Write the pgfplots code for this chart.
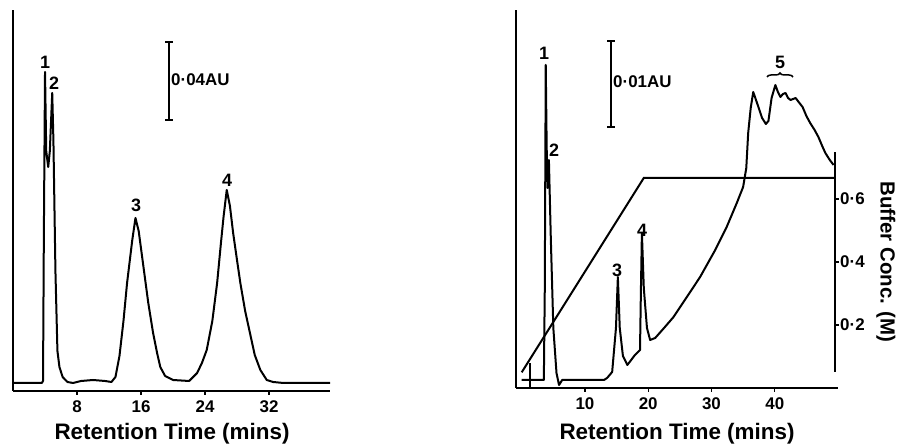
\documentclass[border=0pt]{standalone}
\usepackage{pgfplots}
\pgfplotsset{compat=1.18}
\usepackage{fontspec}
\setmainfont{Liberation Sans}
\usetikzlibrary{decorations.pathreplacing}
\begin{document}
\begin{tikzpicture}[x=1bp,y=1bp]
\pgfplotsset{
  chrom/.style={scale only axis, axis x line=bottom, axis y line=left,
    axis line style={line width=2.8bp,-}, ytick=\empty,
    tick align=outside, major tick length=4bp,
    xtick style={line width=1.4bp, black},
    xticklabel style={font=\bfseries\fontsize{17}{17}\selectfont, inner sep=0pt, yshift=-5bp},
    clip=false}
}
% ---------------- left chromatogram ----------------
\begin{axis}[chrom, at={(13bp,55bp)}, anchor=south west, width=317bp, height=381bp,
  xmin=0, xmax=39.6, ymin=0, ymax=381,
  xtick={8,16,24,32}, xticklabels={8,16,24,32}]
\addplot[line width=2bp, black, line join=round] coordinates {
(0,8) (3.6,8) (3.75,10) (3.85,150) (4.0,319) (4.15,240) (4.4,224) (4.6,240) (4.9,298)
(5.05,250) (5.3,120) (5.55,40) (5.8,24) (6.2,14) (6.8,9) (7.5,8) (8.5,10) (10,11)
(11.5,10) (12.3,9) (12.8,14) (13.3,35) (13.8,70) (14.25,108) (14.9,151) (15.3,173)
(15.7,160) (16.3,124) (16.9,88) (17.5,58) (18.0,38) (18.4,24) (19.0,15) (20,11) (22,10)
(23,18) (23.6,28) (24.2,41) (24.9,70) (25.5,108) (26.0,150) (26.3,174) (26.7,201)
(27.1,185) (27.5,158) (28.0,130) (28.4,108) (29.0,80) (29.6,58) (30.2,36) (30.9,21)
(31.7,11) (32.5,9) (33.8,8) (39.6,8)};
\end{axis}
\node[font=\bfseries\fontsize{22.5}{22.5}\selectfont, anchor=base] at (172,6) {Retention Time (mins)};
% scale bar left
\draw[line width=1.8bp] (169,404) -- (169,326);
\draw[line width=1.5bp] (165,404) -- (173,404) (165,326) -- (173,326);
\node[font=\bfseries\fontsize{17}{17}\selectfont, anchor=west, inner sep=0pt] at (171,366) {0·04AU};
% peak labels left
\begin{scope}[every node/.style={font=\bfseries\fontsize{18}{18}\selectfont, inner sep=0pt}]
\node at (45,384) {1};
\node at (54,363) {2};
\node at (136,241) {3};
\node at (227,266) {4};
\end{scope}
% ---------------- right chromatogram ----------------
\begin{axis}[chrom, at={(516bp,58bp)}, anchor=south west, width=322bp, height=378bp,
  xmin=-0.9, xmax=50, ymin=0, ymax=378,
  xtick={10,20,30,40}, xticklabels={10,20,30,40}]
\addplot[line width=2bp, black, line join=round] coordinates {
(0,8) (3.5,8) (3.65,100) (3.8,323) (3.95,240) (4.1,200) (4.3,228) (4.6,150) (5.0,60)
(5.5,15) (5.9,3) (6.4,8) (10,8) (13.0,8) (13.5,10) (14.3,16) (14.9,60) (15.2,111)
(15.5,60) (16.0,32) (16.7,23) (17.9,33) (18.7,38) (18.85,100) (19.0,155) (19.3,100)
(19.8,60) (20.3,48) (21.1,50) (22.5,60) (24.0,71) (26.0,90) (28.2,111) (30.5,137)
(32.4,161) (34.0,185) (35.0,201) (35.5,220) (35.8,255) (36.2,280) (36.6,296)
(37.2,285) (38.0,270) (38.6,264) (39.0,267) (39.5,290) (40.1,303) (40.5,296)
(40.9,291) (41.3,294) (41.7,295) (42.1,290) (42.5,288) (43.3,290) (43.9,285)
(44.4,281) (45.0,272) (45.6,265) (46.3,258) (46.9,251) (47.5,242) (48.0,235)
(48.7,228) (49.3,223)};
\addplot[line width=1.4bp, black] coordinates {(1.3,0) (1.3,25)};
\end{axis}
% buffer gradient axis
\begin{axis}[at={(516bp,74bp)}, anchor=south west, scale only axis, width=319bp, height=220bp,
  xmin=-0.9, xmax=49.5, ymin=0.051, ymax=0.749,
  axis x line=none, axis y line=right, axis line style={line width=2.8bp,-},
  ytick={0.2,0.4,0.6}, yticklabels={0·2,0·4,0·6},
  tick align=outside, major tick length=4bp,
  ytick style={line width=1.4bp, black},
  yticklabel style={font=\bfseries\fontsize{17}{17}\selectfont, inner sep=0pt, anchor=west, xshift=1bp},
  clip=false]
\addplot[line width=2bp, black] coordinates {(0,0.05) (19.3,0.667) (49.5,0.667)};
\end{axis}
\node[font=\bfseries\fontsize{22.5}{22.5}\selectfont, anchor=base] at (677,6) {Retention Time (mins)};
\node[font=\bfseries\fontsize{20.5}{20.5}\selectfont, rotate=-90] at (886,184) {Buffer Conc. (M)};
% scale bar right
\draw[line width=1.8bp] (611,405) -- (611,319);
\draw[line width=1.5bp] (607,405) -- (615,405) (607,319) -- (615,319);
\node[font=\bfseries\fontsize{17}{17}\selectfont, anchor=west, inner sep=0pt] at (613,364) {0·01AU};
% peak labels right
\begin{scope}[every node/.style={font=\bfseries\fontsize{18}{18}\selectfont, inner sep=0pt}]
\node at (544,393) {1};
\node at (554,296) {2};
\node at (617,176) {3};
\node at (642,216) {4};
\node at (780,384) {5};
\end{scope}
\draw[line width=1.5bp, decorate, decoration={brace, amplitude=4bp}] (767,369) -- (793,369);
\pgfresetboundingbox
\path (0,0) rectangle (899,446);
\end{tikzpicture}
\end{document}
